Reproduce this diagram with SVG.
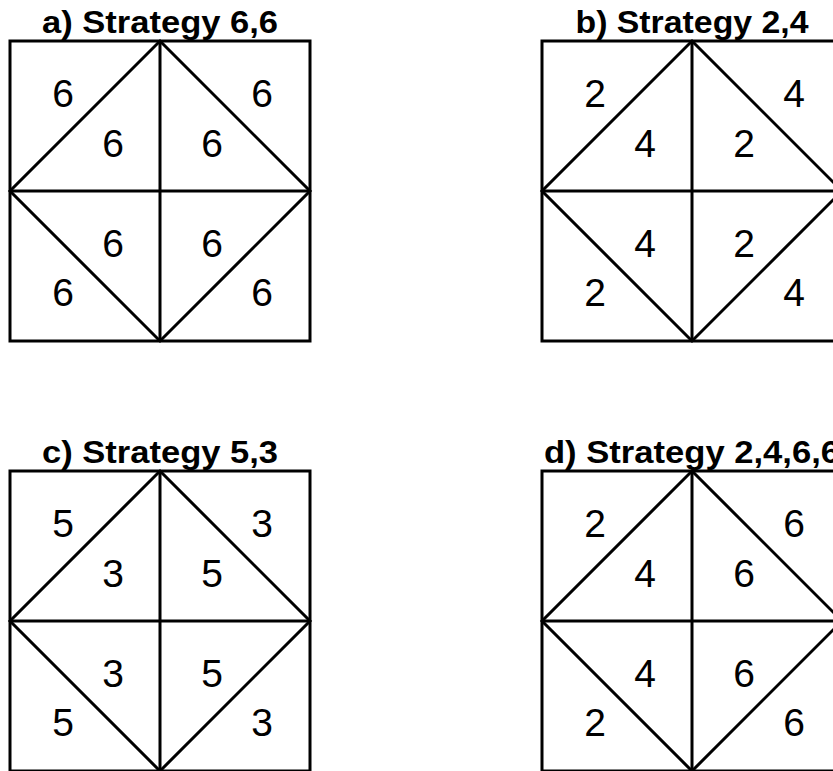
<svg xmlns="http://www.w3.org/2000/svg" width="833" height="771" viewBox="0 0 833 771">
<defs>
<style>
.frame{fill:none;stroke:#000;stroke-width:3;stroke-linejoin:miter}
.ln{stroke:#000;stroke-width:3;fill:none}
.num{font-family:"Liberation Sans",Arial,sans-serif;font-size:39px;text-anchor:middle;fill:#000}
.title{font-family:"Liberation Sans",Arial,sans-serif;font-size:32px;font-weight:bold;text-anchor:middle;fill:#000}
</style>
<g id="grid">
<rect class="frame" x="0" y="0" width="300" height="300"/>
<line class="ln" x1="150" y1="0" x2="150" y2="300"/>
<line class="ln" x1="0" y1="150" x2="300" y2="150"/>
<polygon class="frame" points="150,0 300,150 150,300 0,150"/>
</g>
</defs>
<rect width="833" height="771" fill="#fff"/>

<g id="panel-a" transform="translate(10,41)">
<text class="title" x="150" y="-8" textLength="236" lengthAdjust="spacingAndGlyphs">a) Strategy 6,6</text>
<use href="#grid"/>
<text class="num" x="53" y="66">6</text>
<text class="num" x="103" y="116">6</text>
<text class="num" x="202" y="116">6</text>
<text class="num" x="252" y="66">6</text>
<text class="num" x="103" y="216">6</text>
<text class="num" x="202" y="216">6</text>
<text class="num" x="53" y="265">6</text>
<text class="num" x="252" y="265">6</text>
</g>

<g id="panel-b" transform="translate(542,41)">
<text class="title" x="150" y="-8" textLength="233" lengthAdjust="spacingAndGlyphs">b) Strategy 2,4</text>
<use href="#grid"/>
<text class="num" x="53" y="66">2</text>
<text class="num" x="103" y="116">4</text>
<text class="num" x="202" y="116">2</text>
<text class="num" x="252" y="66">4</text>
<text class="num" x="103" y="216">4</text>
<text class="num" x="202" y="216">2</text>
<text class="num" x="53" y="265">2</text>
<text class="num" x="252" y="265">4</text>
</g>

<g id="panel-c" transform="translate(10,471)">
<text class="title" x="150" y="-8" textLength="236" lengthAdjust="spacingAndGlyphs">c) Strategy 5,3</text>
<use href="#grid"/>
<text class="num" x="53" y="66">5</text>
<text class="num" x="103" y="116">3</text>
<text class="num" x="202" y="116">5</text>
<text class="num" x="252" y="66">3</text>
<text class="num" x="103" y="216">3</text>
<text class="num" x="202" y="216">5</text>
<text class="num" x="53" y="265">5</text>
<text class="num" x="252" y="265">3</text>
</g>

<g id="panel-d" transform="translate(542,471)">
<text class="title" x="150" y="-8" textLength="296" lengthAdjust="spacingAndGlyphs">d) Strategy 2,4,6,6</text>
<use href="#grid"/>
<text class="num" x="53" y="66">2</text>
<text class="num" x="103" y="116">4</text>
<text class="num" x="202" y="116">6</text>
<text class="num" x="252" y="66">6</text>
<text class="num" x="103" y="216">4</text>
<text class="num" x="202" y="216">6</text>
<text class="num" x="53" y="265">2</text>
<text class="num" x="252" y="265">6</text>
</g>
</svg>
